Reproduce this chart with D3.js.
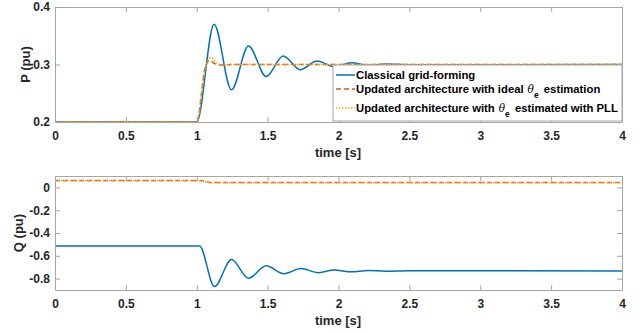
<!DOCTYPE html>
<html>
<head>
<meta charset="utf-8">
<script src="https://cdn.jsdelivr.net/npm/d3@7"></script>
<style>
  body { margin: 0; background: #fff; }
  svg { font-family: "Liberation Sans", Arial, sans-serif; }
  .tick text { font-size: 12px; font-weight: bold; fill: #262626; }
</style>
</head>
<body>
<div id="chart"></div>
<script>
// time ticks shared by both panels
var timeTicks = [0, 0.5, 1, 1.5, 2, 2.5, 3, 3.5, 4];
var pTicks = [0.2, 0.3, 0.4];
var qTicks = [-0.8, -0.6, -0.4, -0.2, 0];

var seriesNames = [
    'Classical grid-forming',
    'Updated architecture with ideal',
    'Updated architecture with'
];

// P (pu) at turning points
var pTime      = [0, 1.0, 1.122, 1.245, 1.365, 1.49, 1.61, 1.73, 1.85, 1.97, 2.09, 2.21, 2.33, 2.5, 4];
var pClassical = [0.2, 0.2, 0.370, 0.256, 0.332, 0.279, 0.315, 0.291, 0.306, 0.296, 0.303, 0.2985, 0.301, 0.2995, 0.3];
var pIdealTime = [0, 1.0, 1.06, 1.09, 1.13, 1.17, 1.25, 4];
var pIdeal     = [0.2, 0.2, 0.295, 0.307, 0.301, 0.299, 0.3, 0.3];
var pPllTime   = [0, 1.0, 1.06, 1.10, 1.14, 1.18, 1.26, 4];
var pPll       = [0.2, 0.2, 0.293, 0.312, 0.303, 0.299, 0.3, 0.3];

// Q (pu)
var qTime      = [0, 1.02, 1.125, 1.245, 1.365, 1.49, 1.615, 1.735, 1.86, 1.97, 2.09, 2.21, 2.33, 2.5, 4];
var qClassical = [-0.515, -0.515, -0.870, -0.633, -0.797, -0.688, -0.757, -0.712, -0.748, -0.724, -0.741, -0.728, -0.736, -0.731, -0.733];
var qIdealTime = [0, 1.02, 1.08, 1.12, 4];
var qIdeal     = [0.06, 0.06, 0.045, 0.042, 0.042];
var qPllTime   = [0, 1.02, 1.08, 1.12, 4];
var qPll       = [0.058, 0.058, 0.044, 0.04, 0.04];

var colors = ['#0072BD', '#D95319', '#EDB120'];
var dashes = [null, '5,3', '1.5,1.5'];

var width = 641, height = 333;
var svg = d3.select('#chart').append('svg')
    .attr('width', width)
    .attr('height', height);

var x = d3.scaleLinear().domain([0, 4]).range([55, 622]);

function zip(ts, vs) {
    return ts.map(function (t, i) { return [t, vs[i]]; });
}

function panel(y, ticks, label, labelX, series) {
    var g = svg.append('g');
    var top = y.range()[1], bottom = y.range()[0];
    var line = d3.line()
        .x(function (d) { return x(d[0]); })
        .y(function (d) { return y(d[1]); })
        .curve(d3.curveMonotoneX);

    series.forEach(function (s, i) {
        g.append('path')
            .attr('d', line(s))
            .attr('fill', 'none')
            .attr('stroke', colors[i])
            .attr('stroke-width', 1.5)
            .attr('stroke-dasharray', dashes[i]);
    });

    // axes with inward ticks (matlab style)
    var ax = [
        g.append('g').attr('transform', 'translate(0,' + bottom + ')')
            .call(d3.axisBottom(x).tickValues(timeTicks).tickFormat(function (d) { return d; })
                .tickSizeInner(-5).tickSizeOuter(0).tickPadding(9)),
        g.append('g').attr('transform', 'translate(0,' + top + ')')
            .call(d3.axisTop(x).tickValues(timeTicks).tickFormat('')
                .tickSizeInner(-5).tickSizeOuter(0)),
        g.append('g').attr('transform', 'translate(55,0)')
            .call(d3.axisLeft(y).tickValues(ticks).tickFormat(function (d) { return d; })
                .tickSizeInner(-5).tickSizeOuter(0).tickPadding(5)),
        g.append('g').attr('transform', 'translate(622,0)')
            .call(d3.axisRight(y).tickValues(ticks).tickFormat('')
                .tickSizeInner(-5).tickSizeOuter(0))
    ];
    ax.forEach(function (a) {
        a.selectAll('.domain, .tick line').attr('stroke', '#a6a6a6');
    });

    g.append('text')
        .attr('x', 338).attr('y', bottom + 35)
        .attr('text-anchor', 'middle')
        .attr('font-size', 13).attr('font-weight', 'bold').attr('fill', '#262626')
        .text('time [s]');

    g.append('text')
        .attr('transform', 'translate(' + labelX + ',' + ((top + bottom) / 2) + ') rotate(-90)')
        .attr('text-anchor', 'middle')
        .attr('dy', '0.35em')
        .attr('font-size', 13).attr('font-weight', 'bold').attr('fill', '#262626')
        .text(label);
    return g;
}

var yP = d3.scaleLinear().domain([0.2, 0.4]).range([122, 7]);
var yQ = d3.scaleLinear().domain([-0.9, 0.1]).range([290, 176]);

panel(yP, pTicks, 'P (pu)', 25, [zip(pTime, pClassical), zip(pIdealTime, pIdeal), zip(pPllTime, pPll)]);
panel(yQ, qTicks, 'Q (pu)', 18, [zip(qTime, qClassical), zip(qIdealTime, qIdeal), zip(qPllTime, qPll)]);

// legend
var leg = svg.append('g');
leg.append('rect')
    .attr('x', 333).attr('y', 65).attr('width', 289).attr('height', 56)
    .attr('fill', '#fff').attr('stroke', '#a6a6a6');

var rowY = [75, 89, 108];
seriesNames.forEach(function (name, i) {
    leg.append('line')
        .attr('x1', 336).attr('x2', 355)
        .attr('y1', rowY[i]).attr('y2', rowY[i])
        .attr('stroke', colors[i]).attr('stroke-width', 1.5)
        .attr('stroke-dasharray', dashes[i]);
    var t = leg.append('text')
        .attr('x', 356).attr('y', rowY[i])
        .attr('dy', '0.35em')
        .attr('font-size', 11.3).attr('font-weight', 'bold').attr('fill', '#000')
        .text(name);
    if (i > 0) {
        t.append('tspan').attr('dx', 4).attr('font-style', 'italic').attr('font-weight', 'normal')
            .attr('font-family', '"DejaVu Serif", serif').attr('font-size', 10.5).text('\u03b8');
        t.append('tspan').attr('dy', 5).attr('font-size', 8.5).text('e');
        t.append('tspan').attr('dy', -5).attr('dx', 2).text(i === 1 ? ' estimation' : ' estimated with PLL');
    }
});
</script>
</body>
</html>
